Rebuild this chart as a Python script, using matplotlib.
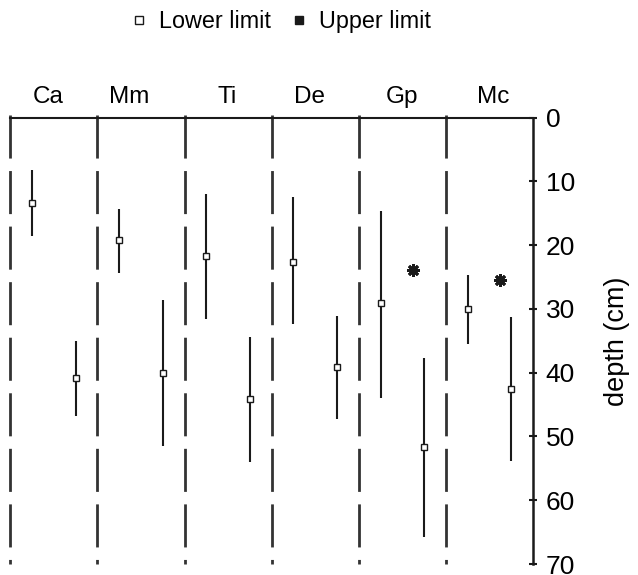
import matplotlib
matplotlib.use("Agg")
import matplotlib.pyplot as plt
from matplotlib.lines import Line2D

plt.rcParams['font.family'] = ['Liberation Sans', 'DejaVu Sans']
plt.rcParams['lines.scale_dashes'] = False

categories = ["Ca", "Mm", "Ti", "De", "Gp", "Mc"]
lower_mid = [13.3, 19.2, 21.7, 22.6, 29.1, 30.0]
lower_top = [8.2, 14.3, 11.9, 12.5, 14.6, 24.6]
lower_bot = [18.5, 24.3, 31.5, 32.4, 43.9, 35.5]
upper_mid = [40.8, 40.0, 44.1, 39.1, 51.6, 42.5]
upper_top = [35.0, 28.6, 34.4, 31.1, 37.7, 31.2]
upper_bot = [46.8, 51.5, 54.0, 47.2, 65.7, 53.8]
star_cats = ["Gp", "Mc"]
star_depth = [23.9, 25.5]
label_x = [0.43, 1.36, 2.49, 3.44, 4.50, 5.54]
yticks = [0, 10, 20, 30, 40, 50, 60, 70]

fig = plt.figure(figsize=(6.38, 5.75), dpi=100)
ax = fig.add_axes([0.0161, 0.0191, 0.8194, 0.7762])
ax.set_xlim(0, len(categories))
ax.set_ylim(70, 0)

ink = '#1a1a1a'
# dashed separators
for i in range(len(categories)):
    ln = Line2D([i, i], [-0.45, 70], color='#333333', lw=2.0, clip_on=False)
    ln.set_dashes([31.0, 9.0])
    ax.add_line(ln)

for i in range(len(categories)):
    xl = i + 0.25
    xu = i + 0.75
    ax.plot([xl, xl], [lower_top[i], lower_bot[i]], color=ink, lw=1.5, solid_capstyle='butt')
    ax.plot([xu, xu], [upper_top[i], upper_bot[i]], color=ink, lw=1.5, solid_capstyle='butt')
    ax.plot([xl, xu], [lower_mid[i], upper_mid[i]], ls='none', marker='s', ms=4.3,
            mfc='white', mec=ink, mew=1.0, zorder=5)
    ax.text(label_x[i], -2.26, categories[i], ha='center', va='baseline', fontsize=17.5,
            clip_on=False)

sx = [categories.index(c) + 0.62 for c in star_cats]
ax.plot(sx, star_depth, ls='none', marker='o', ms=5.0, mfc=ink, mec=ink, zorder=6)
ax.plot(sx, star_depth, ls='none', marker=(8, 2, 0), ms=9.0, mew=2.0, mec=ink, zorder=6)

for s in ['left', 'bottom']:
    ax.spines[s].set_visible(False)
ax.spines['top'].set_linewidth(1.5)
ax.spines['right'].set_linewidth(1.8)
ax.spines['top'].set_color(ink)
ax.spines['right'].set_color(ink)
ax.set_xticks([])
ax.yaxis.tick_right()
ax.yaxis.set_label_position('right')
ax.set_yticks(yticks)
ax.set_yticklabels([str(v) for v in yticks])
ax.tick_params(axis='y', direction='inout', length=6, width=1.5, labelsize=19, pad=6,
               colors=ink, labelcolor='black')
ax.set_ylabel('depth (cm)', fontsize=19.5)
ax.yaxis.set_label_coords(1.135, 0.5)

handles = [Line2D([], [], ls='none', marker='s', ms=5.5, mfc='white', mec=ink, mew=1.0),
           Line2D([], [], ls='none', marker='s', ms=5.5, mfc=ink, mec=ink, mew=1.0)]
fig.legend(handles, ['Lower limit', 'Upper limit'], loc='center', bbox_to_anchor=(0.440, 0.963),
           ncol=2, frameon=False, fontsize=16.8, handlelength=0.7, handletextpad=0.5,
           columnspacing=0.87)

fig.savefig('out.png', dpi=100)
